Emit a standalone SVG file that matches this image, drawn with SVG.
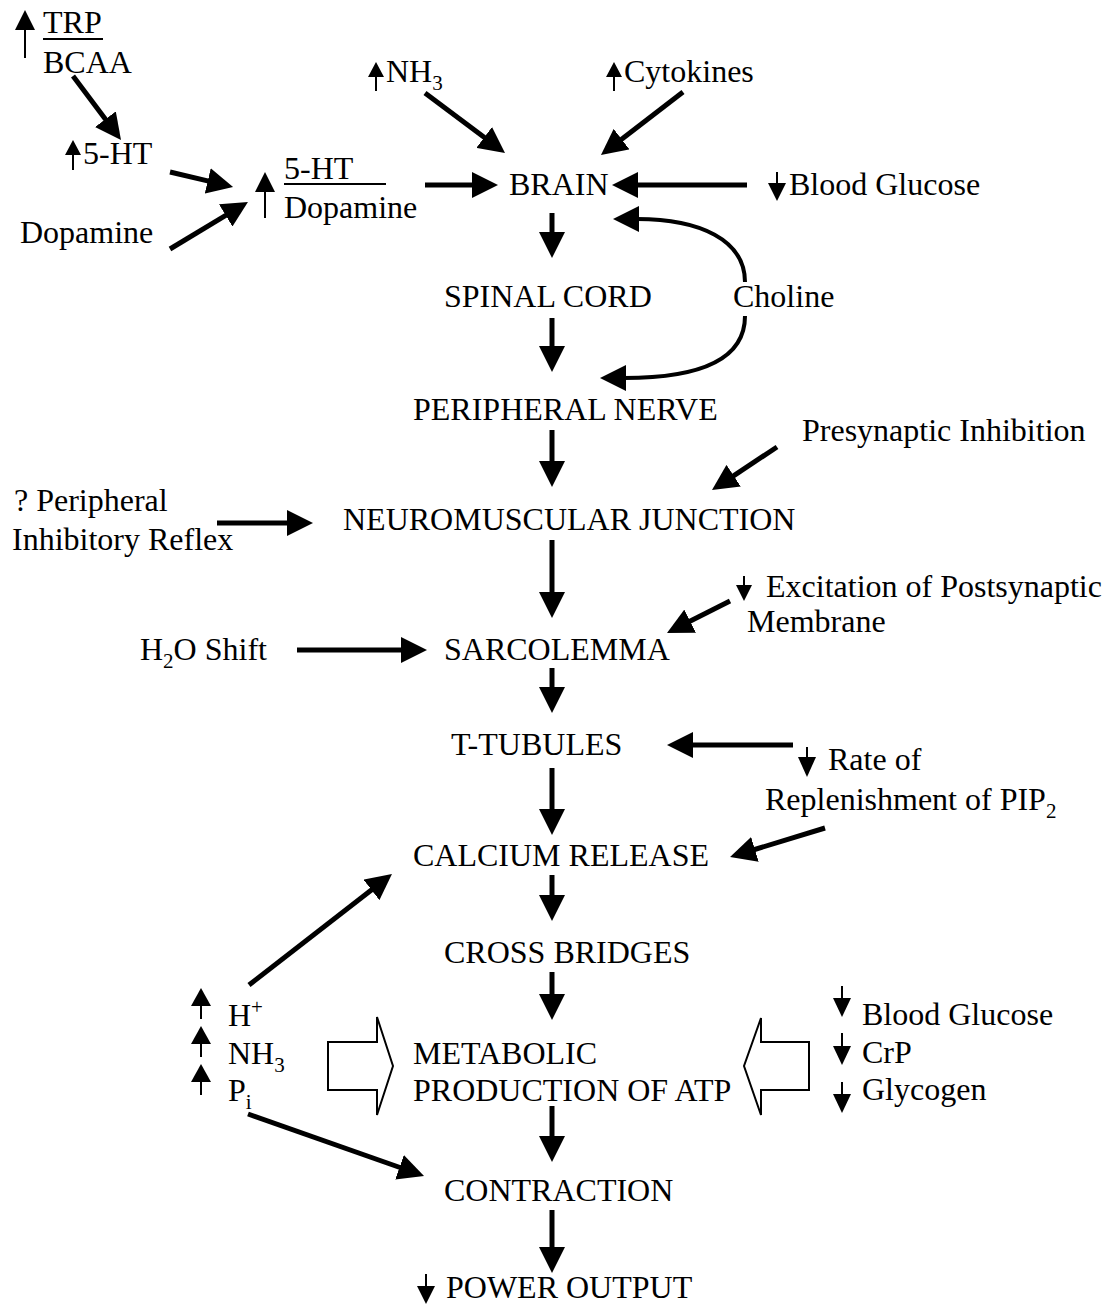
<svg xmlns="http://www.w3.org/2000/svg" width="1113" height="1304" viewBox="0 0 1113 1304">
<style>
text{font-family:"Liberation Serif","Times New Roman",serif;font-size:32px;fill:#000}
.sub{font-size:21px}
.c{stroke:#000;stroke-width:5;fill:none}
.cv{stroke:#000;stroke-width:4;fill:none}
.s{stroke:#000;stroke-width:2;fill:none}
.h{fill:#000}
.ul{stroke:#000;stroke-width:2}
.hollow{fill:#fff;stroke:#000;stroke-width:2}
</style>
<defs>
<marker id="ah" markerUnits="userSpaceOnUse" markerWidth="26" markerHeight="26" viewBox="0 0 26 26" refX="2" refY="13" orient="auto"><path d="M0,0 L26,13 L0,26 Z" fill="#000"/></marker>
</defs>
<rect width="1113" height="1304" fill="#fff"/>

<g id="trp-bcaa">
<line class="s" x1="25" y1="58" x2="25" y2="28"/><polygon class="h" points="25,10 15,30 35,30"/>
<text x="43" y="33">TRP</text>
<line class="ul" x1="43" y1="39" x2="103" y2="39"/>
<text x="43" y="73">BCAA</text>
</g>
<g id="serotonin">
<line class="s" x1="73" y1="170" x2="73" y2="153"/><polygon class="h" points="73,140 65,155 81,155"/>
<text x="83" y="164">5-HT</text>
</g>
<g id="dopamine"><text x="20" y="243">Dopamine</text></g>
<g id="ratio">
<line class="s" x1="265" y1="218" x2="265" y2="190"/><polygon class="h" points="265,172 255,192 275,192"/>
<text x="284" y="179">5-HT</text>
<line class="ul" x1="284" y1="184" x2="386" y2="184"/>
<text x="284" y="218">Dopamine</text>
</g>
<g id="nh3-top">
<line class="s" x1="376" y1="91" x2="376" y2="74"/><polygon class="h" points="376,62 368,77 384,77"/>
<text x="386" y="82">NH<tspan class="sub" dy="8">3</tspan></text>
</g>
<g id="cytokines">
<line class="s" x1="614" y1="91" x2="614" y2="74"/><polygon class="h" points="614,62 606,77 622,77"/>
<text x="624" y="82">Cytokines</text>
</g>
<g id="brain"><text x="509" y="195">BRAIN</text></g>
<g id="blood-glucose-top">
<line class="s" x1="777" y1="172" x2="777" y2="185"/><polygon class="h" points="777,201 768,183 786,183"/>
<text x="789" y="195">Blood Glucose</text>
</g>
<g id="spinal-cord"><text x="444" y="307">SPINAL CORD</text></g>
<g id="choline"><text x="733" y="307">Choline</text></g>
<g id="peripheral-nerve"><text x="413" y="420">PERIPHERAL NERVE</text></g>
<g id="presynaptic"><text x="802" y="441">Presynaptic Inhibition</text></g>
<g id="reflex"><text x="14" y="511">? Peripheral</text><text x="12" y="550">Inhibitory Reflex</text></g>
<g id="nmj"><text x="343" y="530">NEUROMUSCULAR JUNCTION</text></g>
<g id="excitation">
<line class="s" x1="744" y1="576" x2="744" y2="588"/><polygon class="h" points="744,601 736,585 752,585"/>
<text x="766" y="597">Excitation of Postsynaptic</text>
<text x="747" y="632">Membrane</text>
</g>
<g id="h2o"><text x="140" y="660">H<tspan class="sub" dy="8">2</tspan><tspan dy="-8">O Shift</tspan></text></g>
<g id="sarcolemma"><text x="444" y="660">SARCOLEMMA</text></g>
<g id="t-tubules"><text x="451" y="755">T-TUBULES</text></g>
<g id="pip2">
<line class="s" x1="807" y1="747" x2="807" y2="760"/><polygon class="h" points="807,777 798,757 816,757"/>
<text x="828" y="770">Rate of</text>
<text x="765" y="810">Replenishment of PIP<tspan class="sub" dy="8">2</tspan></text>
</g>
<g id="calcium-release"><text x="413" y="866">CALCIUM RELEASE</text></g>
<g id="cross-bridges"><text x="444" y="963">CROSS BRIDGES</text></g>
<g id="metabolites-up">
<line class="s" x1="201" y1="1019" x2="201" y2="1004"/><polygon class="h" points="201,988 191,1006 211,1006"/>
<text x="228" y="1026">H<tspan class="sub" dy="-12">+</tspan></text>
<line class="s" x1="201" y1="1057" x2="201" y2="1042"/><polygon class="h" points="201,1026 191,1044 211,1044"/>
<text x="228" y="1064">NH<tspan class="sub" dy="8">3</tspan></text>
<line class="s" x1="201" y1="1095" x2="201" y2="1080"/><polygon class="h" points="201,1064 191,1082 211,1082"/>
<text x="228" y="1101">P<tspan class="sub" dy="8">i</tspan></text>
</g>
<g id="metabolic-production">
<text x="413" y="1064">METABOLIC</text>
<text x="413" y="1101">PRODUCTION OF ATP</text>
</g>
<g id="substrates-down">
<line class="s" x1="842" y1="986" x2="842" y2="1000"/><polygon class="h" points="842,1017 833,998 851,998"/>
<text x="862" y="1025">Blood Glucose</text>
<line class="s" x1="842" y1="1033" x2="842" y2="1048"/><polygon class="h" points="842,1065 833,1046 851,1046"/>
<text x="862" y="1063">CrP</text>
<line class="s" x1="842" y1="1082" x2="842" y2="1096"/><polygon class="h" points="842,1113 833,1094 851,1094"/>
<text x="862" y="1100">Glycogen</text>
</g>
<g id="contraction"><text x="444" y="1201">CONTRACTION</text></g>
<g id="power-output">
<line class="s" x1="426" y1="1274" x2="426" y2="1288"/><polygon class="h" points="426,1304 417,1286 435,1286"/>
<text x="446" y="1298">POWER OUTPUT</text>
</g>

<g id="connectors">
<line class="c" x1="73" y1="76" x2="106.6" y2="120.8" marker-end="url(#ah)"/>
<line class="c" x1="170" y1="172" x2="209.7" y2="181.4" marker-end="url(#ah)"/>
<line class="c" x1="170" y1="249" x2="227.4" y2="214.4" marker-end="url(#ah)"/>
<line class="c" x1="425" y1="185" x2="474" y2="185" marker-end="url(#ah)"/>
<line class="c" x1="425" y1="93" x2="485.8" y2="138.6" marker-end="url(#ah)"/>
<line class="c" x1="683" y1="92" x2="620" y2="140.4" marker-end="url(#ah)"/>
<line class="c" x1="747" y1="185" x2="636" y2="185" marker-end="url(#ah)"/>
<line class="c" x1="552" y1="213" x2="552" y2="234" marker-end="url(#ah)"/>
<line class="c" x1="552" y1="318" x2="552" y2="348" marker-end="url(#ah)"/>
<line class="c" x1="552" y1="430" x2="552" y2="463" marker-end="url(#ah)"/>
<line class="c" x1="552" y1="540" x2="552" y2="594" marker-end="url(#ah)"/>
<line class="c" x1="552" y1="668" x2="552" y2="689" marker-end="url(#ah)"/>
<line class="c" x1="552" y1="768" x2="552" y2="811" marker-end="url(#ah)"/>
<line class="c" x1="552" y1="875" x2="552" y2="897" marker-end="url(#ah)"/>
<line class="c" x1="552" y1="972" x2="552" y2="996" marker-end="url(#ah)"/>
<line class="c" x1="552" y1="1106" x2="552" y2="1138" marker-end="url(#ah)"/>
<line class="c" x1="552" y1="1210" x2="552" y2="1249" marker-end="url(#ah)"/>
<path class="cv" d="M745,282 C745,240 700,219 637,219" marker-end="url(#ah)"/>
<path class="cv" d="M745,316 C745,360 700,378 624,378" marker-end="url(#ah)"/>
<line class="c" x1="777" y1="447" x2="732" y2="476.8" marker-end="url(#ah)"/>
<line class="c" x1="217" y1="523" x2="289" y2="523" marker-end="url(#ah)"/>
<line class="c" x1="730" y1="601" x2="688.4" y2="622.1" marker-end="url(#ah)"/>
<line class="c" x1="297" y1="650" x2="403" y2="650" marker-end="url(#ah)"/>
<line class="c" x1="793" y1="745" x2="691" y2="745" marker-end="url(#ah)"/>
<line class="c" x1="825" y1="828" x2="753" y2="850" marker-end="url(#ah)"/>
<line class="c" x1="249" y1="985" x2="373" y2="888.7" marker-end="url(#ah)"/>
<line class="c" x1="248" y1="1114" x2="401.4" y2="1168" marker-end="url(#ah)"/>
<polygon class="hollow" points="328,1042 377,1042 377,1017 393,1066 377,1115 377,1090 328,1090"/>
<polygon class="hollow" points="809,1042 761,1042 761,1018 744,1066 761,1115 761,1090 809,1090"/>
</g>
</svg>
